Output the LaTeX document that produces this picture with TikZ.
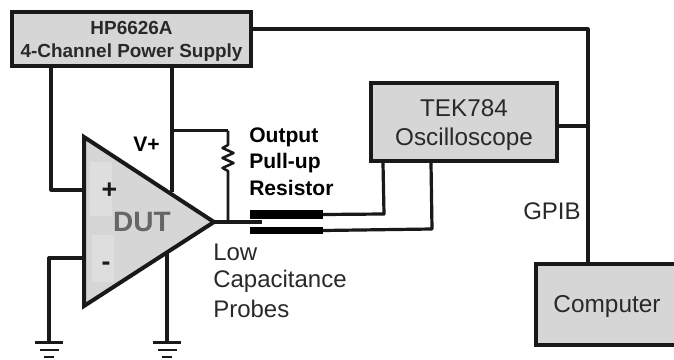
\documentclass[tikz,border=0pt]{standalone}
\usepackage{fontspec}
\setmainfont{Liberation Sans}
\definecolor{boxgray}{gray}{0.84}
\definecolor{patch}{gray}{0.87}
\definecolor{txt}{gray}{0.16}
\tikzset{x=0.75pt,y=-0.75pt,
  wire/.style={line width=2.4pt,line join=round,color=black!90},
  thin wire/.style={line width=1.9pt,line join=round,color=black!90},
  boxed/.style={draw=black!90,line width=3pt,fill=boxgray,inner sep=0pt,align=center,text=txt},
  probe/.style={fill=black,draw=none,inner sep=0pt,minimum width=54.5pt},
  lab/.style={inner sep=0pt,align=left,anchor=west,text=txt,font=\fontsize{18}{22}\selectfont},
  blab/.style={lab,text=black,font=\fontsize{15.8}{20}\selectfont\bfseries}}
\begin{document}
\begin{tikzpicture}
\useasboundingbox (0,0) rectangle (674,360);
\clip (0,0) rectangle (674,360);
\fill[white] (0,0) rectangle (674,360);
\node[boxed,minimum width=179pt,minimum height=40pt,font=\fontsize{14.2}{17.3}\selectfont\bfseries] (psu) at (131.5,39) {\rule{0pt}{13.2pt}HP6626A\\4-Channel Power Supply};
\node[boxed,minimum width=139pt,minimum height=59pt,font=\fontsize{18.2}{21.7}\selectfont] (tek) at (464,122) {\rule{0pt}{17.5pt}TEK784\\Oscilloscope};
\node[boxed,minimum width=107pt,minimum height=61pt,font=\fontsize{18.3}{21}\selectfont] (comp) at (607,304.5) {\rule{0pt}{16.4pt}Computer};
\coordinate (a) at (84,137); \coordinate (b) at (84,306); \coordinate (tip) at (214,222);
\coordinate (busT) at (588,29); \coordinate (busM) at (588,126); \coordinate (busB) at (588,263);
\coordinate (ps1) at (51,67); \coordinate (ps2) at (172,67);
\coordinate (in1) at (84,190); \coordinate (in1c) at (51,190);
\coordinate (in2) at (84,258); \coordinate (in2c) at (49,258);
\coordinate (v) at (172,192); \coordinate (vj) at (172,130.5); \coordinate (rt) at (228,130.5);
\coordinate (g1) at (49,342); \coordinate (g2) at (167,342); \coordinate (gs) at (167,253);
\coordinate (oj) at (228,222);
\draw[wire] (psu.east |- busT) -- (busT) -- (busB);
\draw[wire] (tek.east |- busM) -- (busM);
\draw[wire] (ps1) -- (in1c) -- (in1);
\draw[wire] (ps2) -- (v);
\draw[thin wire] (vj) -- (rt);
\draw[wire] (in2) -- (in2c) -- (g1);
\draw[wire] (gs) -- (g2);
\draw[thin wire] (rt) -- (228,145) -- (222.5,148) -- (233.5,153) -- (222.5,158) -- (233.5,163) -- (222.5,168) -- (228,171) -- (oj);
\draw[line width=3pt,fill=boxgray,line join=miter,draw=black!90] (a) -- (tip) -- (b) -- cycle;
\fill[patch] (90,162) rectangle (112,216);
\fill[patch] (92,235) rectangle (114,282);
\draw[wire] (tip) -- (262,222);
\node[probe,minimum height=6.75pt] (p1) at (286.5,214.5) {};
\node[probe,minimum height=5.6pt] (p2) at (286.5,230.5) {};
\draw[wire] (p1.east) -- (384,214) -- (383,163);
\draw[wire] (p2.east) -- (432,229) -- (431,163);
\foreach \x in {49,167}{
  \draw[thin wire] (\x-14,342.5) -- (\x+14,342.5);
  \draw[thin wire] (\x-9.5,350) -- (\x+9.5,350);
  \draw[thin wire] (\x-5,357) -- (\x+5,357);
}
\node[inner sep=0pt,font=\fontsize{20}{20}\selectfont\bfseries,text=black!90] (plus) at (109.5,191) {+};
\node[inner sep=0pt,font=\fontsize{20}{20}\selectfont\bfseries,text=black!90] (minus) at (106,266) {-};
\node[inner sep=0pt,font=\fontsize{21}{21}\selectfont\bfseries,text=black!60] (dut) at (142,222) {DUT};
\node[blab] (vp) at (133,144) {V+};
\node[blab] (out) at (249,137) {Output};
\node[blab] (pull) at (249,163) {Pull-up};
\node[blab] (res) at (249,188) {Resistor};
\node[lab] (l1) at (213,252) {Low};
\node[lab] (l2) at (213,281) {Capacitance};
\node[lab] (l3) at (213,309) {Probes};
\node[lab] (gpib) at (523,211) {GPIB};
\end{tikzpicture}
\end{document}
